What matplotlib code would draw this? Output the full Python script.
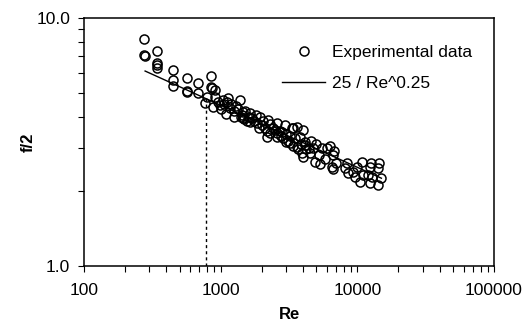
import matplotlib
matplotlib.use("Agg")
import matplotlib.pyplot as plt
import numpy as np
from matplotlib.ticker import LogLocator, FixedLocator, FixedFormatter, NullFormatter

plt.rcParams['font.family'] = ['Liberation Sans', 'DejaVu Sans']

# Experimental data (Re, f/2)
re_exp = [275, 275, 280, 342, 342, 342, 342, 448, 448, 448, 566, 566, 570, 682, 682,
          849, 849, 860, 794, 770, 908, 880, 985, 1112, 908, 1040, 1130, 1384, 1170,
          1430, 1450, 1480, 1400, 1636, 1936, 1830, 2218, 2583, 2951, 3327, 3620, 2300,
          2583, 2850, 3230, 3620, 3930, 4140, 4000, 2800, 1450, 3380, 4000, 3500, 4140,
          4730, 5510, 6030, 6620, 4900, 5300, 6500, 8400, 8550, 9930, 10800, 12360,
          14150, 14800, 12800, 11000, 9600, 10500, 12360, 14150, 9260, 8100, 12000,
          14500, 12500, 1250, 1300, 1550, 1700, 2000, 2100, 2400, 2200, 1900, 1100,
          1000, 1200, 2700, 3000, 3100, 3800, 4400, 4600, 5000, 6300, 6800, 7000, 6600,
          1350, 1500, 1600, 1750, 1800, 2050, 2300, 2500, 2600, 2750, 3000, 3200,
          3400, 3700, 3900, 4200, 4500, 5200, 5800, 2200, 1650, 1250, 1050, 950]
f_exp = [8.23, 7.09, 7.02, 7.36, 6.59, 6.45, 6.29, 6.17, 5.62, 5.32, 5.73, 5.08, 5.02, 5.47, 4.98,
         5.84, 5.27, 5.20, 4.80, 4.54, 4.80, 4.38, 4.45, 4.58, 5.12, 4.67, 4.76, 4.67, 4.34,
         4.06, 3.95, 3.90, 4.00, 4.14, 3.99, 3.77, 3.88, 3.77, 3.70, 3.60, 3.64, 3.44,
         3.31, 3.28, 3.13, 3.02, 2.86, 3.07, 2.75, 3.47, 4.17, 3.60, 3.54, 3.28, 3.16,
         2.99, 2.99, 2.99, 2.80, 2.63, 2.58, 2.51, 2.60, 2.37, 2.51, 2.63, 2.51,
         2.48, 2.26, 2.28, 2.33, 2.28, 2.18, 2.16, 2.12, 2.39, 2.48, 2.33,
         2.60, 2.60, 4.20, 4.40, 3.85, 3.95, 3.70, 3.60, 3.60, 3.50, 3.60, 4.10,
         4.30, 4.50, 3.50, 3.40, 3.20, 3.30, 3.00, 3.20, 3.10, 3.05, 2.90, 2.60, 2.45,
         4.30, 4.20, 4.00, 3.85, 4.05, 3.85, 3.75, 3.55, 3.45, 3.35, 3.15, 3.35,
         3.05, 2.95, 3.10, 2.95, 2.85, 2.80, 2.70, 3.30, 3.80, 4.00, 4.50, 4.60]

# Correlation 25 / Re^0.25
fit_coef = 25.0
fit_exp = 0.25
fit_re_range = [280, 15000]
re_crit = 780

x_ticks = [100, 1000, 10000, 100000]
x_tick_labels = ["100", "1000", "10000", "100000"]
y_ticks = [1.0, 10.0]
y_tick_labels = ["1.0", "10.0"]

fig = plt.figure(figsize=(5.24, 3.25), dpi=100)
ax = fig.add_axes([84/524, 1-266/325, 410/524, 248/325])

re_fit = np.logspace(np.log10(fit_re_range[0]), np.log10(fit_re_range[1]), 200)
ax.plot(re_fit, fit_coef / re_fit**fit_exp, color='black', lw=1.0,
        label='25 / Re^0.25', zorder=2)
ax.plot(re_exp, f_exp, linestyle='none', marker='o', markersize=6.5,
        markerfacecolor='none', markeredgecolor='black', markeredgewidth=1.1,
        label='Experimental data', zorder=3)
ax.plot([re_crit, re_crit], [1.0, fit_coef / re_crit**fit_exp], color='black',
        lw=1.0, linestyle=(0, (2.2, 2.2)), zorder=1)

ax.set_xscale('log')
ax.set_yscale('log')
ax.set_xlim(100, 100000)
ax.set_ylim(1.0, 10.0)

ax.xaxis.set_major_locator(FixedLocator(x_ticks))
ax.xaxis.set_major_formatter(FixedFormatter(x_tick_labels))
ax.xaxis.set_minor_locator(LogLocator(base=10, subs=np.arange(2, 10)))
ax.xaxis.set_minor_formatter(NullFormatter())
ax.yaxis.set_major_locator(FixedLocator(y_ticks))
ax.yaxis.set_major_formatter(FixedFormatter(y_tick_labels))
ax.yaxis.set_minor_locator(LogLocator(base=10, subs=np.arange(2, 10)))
ax.yaxis.set_minor_formatter(NullFormatter())

ax.tick_params(axis='both', which='both', direction='out', length=4, width=0.8,
               colors='black', labelsize=12.5)
ax.tick_params(axis='x', which='both', pad=8)
ax.tick_params(axis='y', which='both', pad=6)
ax.tick_params(top=False, right=False)

for s in ax.spines.values():
    s.set_linewidth(1.1)
    s.set_color('black')

ax.set_xlabel('Re', fontsize=12, fontweight='bold')
ax.set_ylabel('f/2', fontsize=12, fontweight='bold')
ax.xaxis.set_label_coords(0.5, -0.165)
ax.yaxis.set_label_coords(-0.117, 0.5)

handles, labels = ax.get_legend_handles_labels()
order = [1, 0]
leg = ax.legend([handles[i] for i in order], [labels[i] for i in order],
                loc='upper left', bbox_to_anchor=(0.483, 0.891), frameon=False,
                fontsize=12.5, borderpad=0, borderaxespad=0, handlelength=2.5,
                handletextpad=0.4, labelspacing=0.9)

fig.savefig('out.png', dpi=100)
